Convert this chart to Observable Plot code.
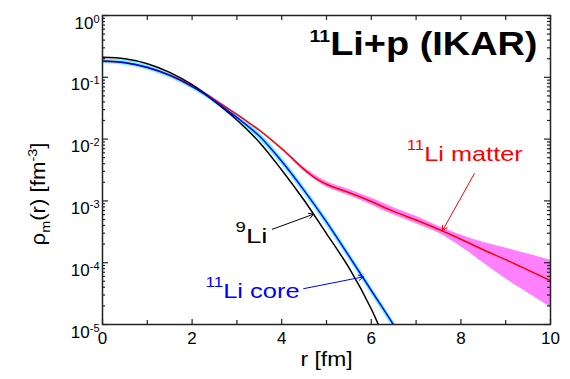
<!DOCTYPE html>
<html><head><meta charset="utf-8">
<script src="https://cdn.jsdelivr.net/npm/d3@7"></script>
<script src="https://cdn.jsdelivr.net/npm/@observablehq/plot@0.6"></script>
<style>body{margin:0;background:#fff}</style>
</head><body><div id="chart"></div>
<script>
// ---- data ----
const r9 = [0,0.5,1,1.5,2,2.5,3,3.5,4,4.5,5,5.5,6,6.5];
const li9 = [0.211,0.1995,0.166,0.1202,0.0759,0.0407,0.0204,8.91e-3,3.16e-3,1.023e-3,2.95e-4,8.32e-5,1.78e-5,2.51e-6];

const rCore = [0,0.5,1,1.5,2,2.5,3,3.5,4,4.5,5,5.5,6,6.5,7];
const core = [0.182,0.172,0.1445,0.1072,0.0708,0.0417,0.0224,0.01122,4.37e-3,1.479e-3,4.57e-4,1.288e-4,3.55e-5,9.77e-6,2.51e-6];
const coreHi = [0.1995,0.1885,0.1584,0.1175,0.0776,0.0457,0.0257,0.01288,5.02e-3,1.698e-3,5.25e-4,1.479e-4,4.08e-5,1.122e-5,2.88e-6];
const coreLo = [0.166,0.157,0.1318,0.0978,0.0646,0.0380,0.0195,9.77e-3,3.81e-3,1.288e-3,3.98e-4,1.122e-4,3.09e-5,8.51e-6,2.19e-6];

const rMatter = [0,0.5,1,1.5,2,2.5,3,3.25,3.5,3.75,4,4.25,4.5,4.75,5,5.25,5.5,6,6.5,7,7.5,8,8.5,9,9.5,10];
const matter = [0.184,0.174,0.146,0.1096,0.0741,0.0437,0.0251,0.01884,0.01396,0.0100,7.00e-3,4.79e-3,3.24e-3,2.34e-3,1.86e-3,1.585e-3,1.365e-3,9.77e-4,6.76e-4,4.90e-4,3.47e-4,2.40e-4,1.62e-4,1.12e-4,7.59e-5,5.13e-5];

const rBand = [4,4.5,5,5.5,6,6.5,7,7.5,8,8.5,9,9.5,10];
const bandHi = [7.16e-3,3.47e-3,2.06e-3,1.53e-3,1.109e-3,7.76e-4,5.62e-4,3.89e-4,2.82e-4,2.14e-4,1.73e-4,1.38e-4,1.10e-4];
const bandLo = [6.84e-3,3.02e-3,1.68e-3,1.22e-3,8.61e-4,5.89e-4,4.27e-4,3.02e-4,1.82e-4,9.99e-5,5.48e-5,3.24e-5,1.91e-5];

const xMajor = [0,2,4,6,8,10];
const xMinor = [1,3,5,7,9];
const decades = [1e-5,1e-4,1e-3,1e-2,1e-1,1];
const decadeExp = ["-5","-4","-3","-2","-1","0"];
const minorMult = [2,3,4,5,6,7,8,9];

const labelText = ["^{9}Li", "^{11}Li core", "^{11}Li matter"];
const labelR = [2.97, 2.30, 6.79];
const labelRho = [2.72e-4, 3.51e-5, 5.78e-3];
const labelColor = ["black", "#0000ff", "#ff0000"];

const arrowR1 = [3.79, 4.49, 8.30];
const arrowRho1 = [3.47e-4, 3.8e-5, 2.77e-3];
const arrowR2 = [4.71, 5.82, 7.59];
const arrowRho2 = [6.1e-4, 5.9e-5, 3.31e-4];

const title = "^{11}Li+p (IKAR)";
const xLabel = "r [fm]";
const yLabel = "\u03c1_{m}(r) [fm^{-3}]";

// ---- tables ----
const rows = (xs, ys) => xs.map((x, i) => ({r: x, v: ys[i]}));
const li9Rows = rows(r9, li9);
const coreRows = rows(rCore, core);
const matterRows = rows(rMatter, matter);
const coreBand = rCore.map((x, i) => ({r: x, lo: coreLo[i], hi: coreHi[i]}));
const matterBand = rBand.map((x, i) => ({r: x, lo: bandLo[i], hi: bandHi[i]}));
const labels = labelText.map((t, i) => ({t, r: labelR[i], v: labelRho[i], c: labelColor[i]}));
const arrows = arrowR1.map((x, i) => ({x1: x, y1: arrowRho1[i], x2: arrowR2[i], y2: arrowRho2[i], c: labelColor[i]}));
const yMinor = decades.slice(0, -1).flatMap(d => minorMult.map(m => d * m));

const W = 570, H = 379, ML = 102, MR = 20, MT = 15, MB = 55;
const FW = W - ML - MR, FH = H - MT - MB;
const tk = {stroke: "#222", strokeWidth: 1.2};

const plot = Plot.plot({
  width: W, height: H,
  marginLeft: ML, marginRight: MR, marginTop: MT, marginBottom: MB,
  x: {domain: [0, 10]},
  y: {type: "log", domain: [1e-5, 1]},
  color: {type: "identity"},
  style: {fontFamily: "'Liberation Sans', Arial, sans-serif", background: "white", color: "black"},
  marks: [
    Plot.areaY(matterBand, {x: "r", y1: "lo", y2: "hi", fill: "#ff80ff", curve: "catmull-rom", clip: true}),
    Plot.areaY(coreBand, {x: "r", y1: "lo", y2: "hi", fill: "#70f8ff", curve: "catmull-rom", clip: true}),
    Plot.line(matterRows, {x: "r", y: "v", stroke: "#ff0000", strokeWidth: 1.5, curve: "catmull-rom", clip: true}),
    Plot.line(li9Rows, {x: "r", y: "v", stroke: "black", strokeWidth: 1.5, curve: "catmull-rom", clip: true}),
    Plot.line(coreRows, {x: "r", y: "v", stroke: "#0000ff", strokeWidth: 1.5, curve: "catmull-rom", clip: true}),
    Plot.arrow(arrows, {x1: "x1", y1: "y1", x2: "x2", y2: "y2", stroke: "c", strokeWidth: 1, headLength: 8}),
    // ticks (inward on all four sides)
    Plot.tickY(decades, {y: d => d, insetRight: FW - 6, ...tk}),
    Plot.tickY(yMinor, {y: d => d, insetRight: FW - 3, ...tk}),
    Plot.tickY(decades, {y: d => d, insetLeft: FW - 6, ...tk}),
    Plot.tickY(yMinor, {y: d => d, insetLeft: FW - 3, ...tk}),
    Plot.tickX(xMajor, {x: d => d, insetTop: FH - 5, ...tk}),
    Plot.tickX(xMinor, {x: d => d, insetTop: FH - 4, ...tk}),
    Plot.tickX(xMajor.concat(xMinor), {x: d => d, insetBottom: FH - 5, ...tk}),
    Plot.frame({stroke: "#222", strokeWidth: 1.5}),
    Plot.axisX({ticks: xMajor, tickSize: 0, tickPadding: 7, fontSize: 17, label: null}),
    Plot.axisY({ticks: decades, tickFormat: d => "10^{" + decadeExp[decades.indexOf(d)] + "}", tickSize: 0, tickPadding: 3, fontSize: 17, label: null}),
    Plot.text(labels, {x: "r", y: "v", text: "t", fill: "c", fontSize: 21, textAnchor: "start", lineAnchor: "middle", className: "rich-lab"}),
    Plot.text([title], {frameAnchor: "top-right", dx: -13, dy: 29, textAnchor: "end", lineAnchor: "middle", fontSize: 33, fontWeight: "bold", className: "rich-title"}),
    Plot.text([xLabel], {frameAnchor: "bottom", dy: 35, textAnchor: "middle", lineAnchor: "middle", fontSize: 20, className: "rich-xl"}),
    Plot.text([yLabel], {frameAnchor: "left", dx: -64, dy: 24, rotate: -90, textAnchor: "middle", lineAnchor: "middle", fontSize: 20, className: "rich-yl"})
  ]
});
document.getElementById("chart").appendChild(plot);

// ---- rich text (super/subscripts) ----
const NS = "http://www.w3.org/2000/svg";
function richify(el, o) {
  const s = el.textContent;
  el.textContent = "";
  const re = /([\^_])\{([^}]*)\}|([^\^_]+)/g;
  let m, shift = 0;
  while ((m = re.exec(s))) {
    const t = document.createElementNS(NS, "tspan");
    let target = 0, size = null;
    if (m[1] === "^") { target = -o.raise; size = o.sup; t.textContent = m[2]; }
    else if (m[1] === "_") { target = o.lower; size = o.sub; t.textContent = m[2]; }
    else t.textContent = m[3];
    const dy = target - shift; shift = target;
    if (dy) t.setAttribute("dy", dy);
    if (size) t.setAttribute("font-size", size);
    el.appendChild(t);
  }
  if (o.width) { el.setAttribute("textLength", o.width); el.setAttribute("lengthAdjust", "spacingAndGlyphs"); }
}
const svg = d3.select(plot);
const labW = {"^{9}Li": 32, "^{11}Li core": 94, "^{11}Li matter": 116};
svg.selectAll("g.rich-lab text").each(function() { richify(this, {sup: 14, raise: 11, width: labW[this.textContent]}); });
svg.selectAll("g.rich-title text").each(function() { richify(this, {sup: 17, raise: 13, width: 228}); });
svg.selectAll("g.rich-xl text").each(function() { richify(this, {width: 52}); });
svg.selectAll("g.rich-yl text").each(function() { richify(this, {sup: 13, raise: 8, sub: 13, lower: 5, width: 103}); });
svg.selectAll("g[aria-label='y-axis tick label'] text").each(function() { richify(this, {sup: 11, raise: 6}); d3.select(this).attr("dy", "0.45em"); });
</script>
</body></html>
